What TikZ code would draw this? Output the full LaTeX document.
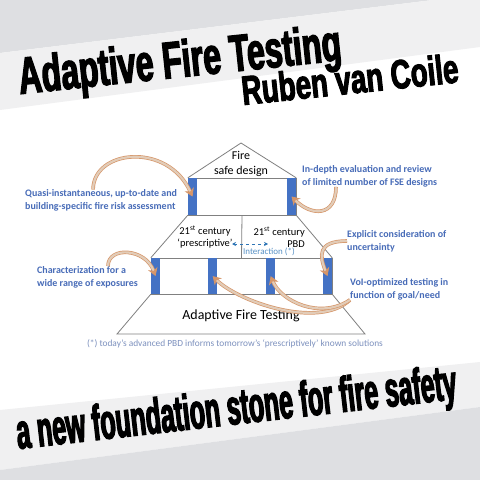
\documentclass[tikz,border=0pt]{standalone}
\usepackage{fontspec}
\setmainfont{Carlito}
\newfontfamily\titlefont{Liberation Sans}[FakeStretch=0.62, FakeBold=2.5]
\newfontfamily\authorfont{Liberation Sans}[FakeStretch=0.68, FakeBold=2.5]
\newfontfamily\lemafont{Liberation Sans}[FakeStretch=0.5, FakeBold=2.5]
\usetikzlibrary{arrows.meta, positioning}
\definecolor{color1}{RGB}{68,114,196}
\definecolor{color2}{RGB}{72,108,184}
\definecolor{color3}{RGB}{46,117,182}
\definecolor{color4}{RGB}{226,204,184}
\definecolor{color5}{RGB}{222,223,226}
\definecolor{color6}{RGB}{240,240,241}
\definecolor{color7}{RGB}{125,145,190}
\definecolor{color8}{RGB}{128,128,128}
\definecolor{color9}{RGB}{214,150,105}

\begin{document}
\begin{tikzpicture}
        [
        x=1bp, y=-1bp,
            caja/.style={
                rectangle,
                draw=color8,
                fill=white,
                inner sep=0pt
            },
            barraAzul/.style={
                rectangle,
                fill=color1,
                inner sep=0pt,
                minimum width=9bp
            },
            contorno/.style={
                draw=color8,
                line width=0.8bp
            },
            etiqueta/.style={
                font=\fontsize{10}{12.8}\selectfont\bfseries,
                text=color2,
                align=left,
                inner sep=0pt,
                anchor=west
            },
            textoCasa/.style={
                font=\fontsize{10.5}{12.5}\selectfont,
                inner sep=0pt
            },
            titulo/.style={
                inner sep=0pt,
                anchor=base west
            },
            flechaCurva/.style={
                -{Stealth[length=8bp,width=10bp]},
                draw=color9,
                double=color4,
                line width=0.7bp,
                double distance=2.2bp
            },
            flechaInteraccion/.style={
                {Stealth[length=4bp,width=4bp]}-{Stealth[length=4bp,width=4bp]},
                draw=color3,
                dashed,
                thick
            }
        ]
        \useasboundingbox (0,0) rectangle (480,480);
        % background bands
        \fill[white] (0,0) rectangle (480,480);
        \fill[color5] (0,0) -- (433,0) -- (0,53) -- cycle;
        \fill[color6] (0,53) -- (433,0) -- (480,0) -- (480,47) -- (0,110) -- cycle;
        \fill[color6] (0,410) -- (480,362) -- (480,407) -- (0,470) -- cycle;
        \fill[color5] (0,470) -- (480,407) -- (480,480) -- (0,480) -- cycle;

        % titles
        \node(titulo) [titulo, font=\fontsize{52}{52}\selectfont\titlefont\bfseries, rotate=6] at (20,94) {Adaptive Fire Testing};
        \node(autor) [titulo, font=\fontsize{41}{41}\selectfont\authorfont\bfseries, rotate=6] at (243,105) {Ruben van Coile};
        \node(lema) [titulo, font=\fontsize{50}{50}\selectfont\lemafont\bfseries, rotate=6.5] at (18,449) {a new foundation stone for fire safety};

        % house
        \node(topbox) [caja, minimum width=108bp, minimum height=37bp] at (242,196.5) {};
        \node(lowbox) [caja, minimum width=181bp, minimum height=36bp] at (241.5,276) {};
        \node(barTL) [barraAzul, minimum height=37bp, anchor=north west] at (topbox.north west) {};
        \node(barTR) [barraAzul, minimum height=37bp, anchor=north east] at (topbox.north east) {};
        \node(barA) [barraAzul, minimum height=36bp, anchor=north west] at (lowbox.north west) {};
        \node(barB) [barraAzul, minimum height=36bp, anchor=north west] at (208,258) {};
        \node(barC) [barraAzul, minimum height=36bp, anchor=north west] at (266,258) {};
        \node(barD) [barraAzul, minimum height=36bp, anchor=north east] at (lowbox.north east) {};

        \coordinate (apex) at (241,143);
        \coordinate (baseL) at (117,334);
        \coordinate (baseR) at (365,334);
        \draw[contorno] (topbox.north west) -- (apex) -- (topbox.north east);
        \draw[contorno] (topbox.south west) -- (lowbox.north west);
        \draw[contorno] (topbox.south east) -- (lowbox.north east);
        \draw[contorno] (topbox.south) -- (lowbox.north);
        \draw[contorno] (lowbox.south west) -- (baseL) -- (baseR) -- (lowbox.south east);

        \node(safedesign) [textoCasa, font=\fontsize{12}{14.5}\selectfont, align=center] at (241,164) {Fire\\safe design};
        \node(prescriptive) [textoCasa, align=center] at (205,237) {21\textsuperscript{st} century\\‘prescriptive’};
        \node(pbd) [textoCasa, align=right, anchor=east] at (305,237) {21\textsuperscript{st} century\\PBD};
        \node(interaction) [inner sep=0pt, anchor=west, text=color3!80!white, font=\fontsize{9}{10}\selectfont] at (243,252) {Interaction (*)};
        \node(aft) [inner sep=0pt, font=\fontsize{14}{16}\selectfont] at (241,316) {Adaptive Fire Testing};
        \node(nota) [inner sep=0pt, text=color7, font=\fontsize{9.4}{10}\selectfont] at (235,344) {(*) today’s advanced PBD informs tomorrow’s ‘prescriptively’ known solutions};

        \coordinate (intL) at (232,244);
        \coordinate (intR) at (268,244);
        \draw[flechaInteraccion] (intL) -- (intR);

        % labels
        \node(quasi) [etiqueta] at (25,200.5) {Quasi-instantaneous, up-to-date and\\building-specific fire risk assessment};
        \node(indepth) [etiqueta] at (302,176) {In-depth evaluation and review\\of limited number of FSE designs};
        \node(explicit) [etiqueta] at (347,241) {Explicit consideration of\\uncertainty};
        \node(charact) [etiqueta] at (37,277) {Characterization for a\\wide range of exposures};
        \node(voi) [etiqueta] at (350,289) {VoI-optimized testing in\\function of goal/need};

        \draw[flechaCurva] ([xshift=-8bp]quasi.north) .. controls +(0,-40) and +(-25,-55) .. (barTL.center);
        \draw[flechaCurva] ([xshift=34bp]indepth.south west) .. controls +(0,30) and +(20,20) .. (barTR.center);
        \draw[flechaCurva] (explicit.west) .. controls +(-30,0) and +(-8,-20) .. (barD.center);
        \draw[flechaCurva] ([xshift=-30bp]charact.north east) .. controls +(0,-20) and +(-10,-28) .. (barA.center);
        \draw[flechaCurva] (voi.south west) .. controls +(-32,30) and +(25,25) .. (barB.center);
        \draw[flechaCurva] (voi.south west) .. controls +(-30,20) and +(10,25) .. (barC.center);
    \end{tikzpicture}
\end{document}
